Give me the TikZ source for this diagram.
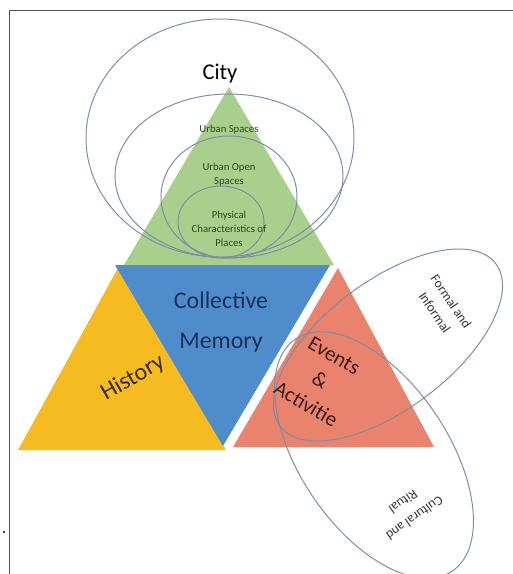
\documentclass[tikz,border=0pt]{standalone}
\usepackage{fontspec}
\setmainfont{Carlito}
\usepackage{xcolor}
\definecolor{city-green}{HTML}{A8CF8C}
\definecolor{memory-blue}{HTML}{4F8CCB}
\definecolor{history-gold}{HTML}{F7BB22}
\definecolor{events-red}{HTML}{E9836E}
\definecolor{ring-grey}{HTML}{7D8CA6}
\definecolor{frame-grey}{HTML}{555555}
\definecolor{leaf-text}{HTML}{2A4A1C}
\definecolor{memory-text}{HTML}{17305A}
\definecolor{history-text}{HTML}{3A2A05}
\definecolor{events-text}{HTML}{3C1A12}

\begin{document}
\begin{tikzpicture}[x=0.025cm, y=-0.025cm,
      every node/.style={align=center, inner sep=1pt},
      ring/.style={draw=ring-grey, line width=0.7pt}]
    \useasboundingbox (0,0) rectangle (513,574);
    % frame -- only its top and left sides fall inside the crop
    \draw[frame-grey, line width=0.9pt] (9.5,574) -- (9.5,10.5) -- (513,10.5);
    \node[circle, fill=black, inner sep=0pt, minimum size=1.6pt] (dot) at (4,532) {};

    % the four triangles: city on top, history / memory / events below
    \fill[city-green] (229,87) -- (124,265) -- (334,265) -- cycle;
    \fill[history-gold] (118,268) -- (18,450) -- (226,450) -- cycle;
    \fill[memory-blue] (115,265) -- (330,265) -- (223,446) -- cycle;
    \fill[events-red] (338,268) -- (233,447) -- (434,447) -- cycle;

    % nested rings of the city triangle, all resting on its base
    \foreach \cx/\cy/\rx/\ry in {220/138/134/119, 229/176/114/82,
                                 229/197/68/61, 221/222/43/36} {
      \draw[ring] (\cx,\cy) ellipse [x radius=\rx, y radius=\ry];
    }

    % two tilted rings crossing the events triangle
    \draw[ring, rotate around={37:(388,345)}] (388,345) ellipse [x radius=135, y radius=64];
    \draw[ring, rotate around={-56:(374,455)}] (374,455) ellipse [x radius=140, y radius=74];

    % labels
    \node[font=\fontsize{16}{18}\selectfont] (city) at (220,74) {City};
    \node[font=\fontsize{7.6}{10}\selectfont, text=leaf-text] (urban) at (229,130) {Urban Spaces};
    \node[font=\fontsize{7.6}{10}\selectfont, text=leaf-text] (openspace) at (229,175) {Urban Open\\Spaces};
    \node[font=\fontsize{7.6}{10}\selectfont, text=leaf-text] (physical) at (229,229)
          {Physical\\Characteristics of\\Places};
    \node[font=\fontsize{17}{28}\selectfont, text=memory-text] (collective) at (221,322) {Collective\\Memory};
    \node[font=\fontsize{17}{20}\selectfont, text=history-text, rotate=30] (history) at (133,378) {History};
    \node[font=\fontsize{15}{20}\selectfont, text=events-text, rotate=-30] (events) at (320,380)
          {Events\\\&\\Activitie};
    \node[font=\fontsize{9.5}{14}\selectfont, text=black!80, rotate=-56] (formal) at (443,307)
          {Formal and\\Informal};
    \node[font=\fontsize{9.5}{14}\selectfont, text=black!80, rotate=-145] (cultural) at (409,510)
          {Cultural and\\Ritual};
  \end{tikzpicture}
\end{document}
